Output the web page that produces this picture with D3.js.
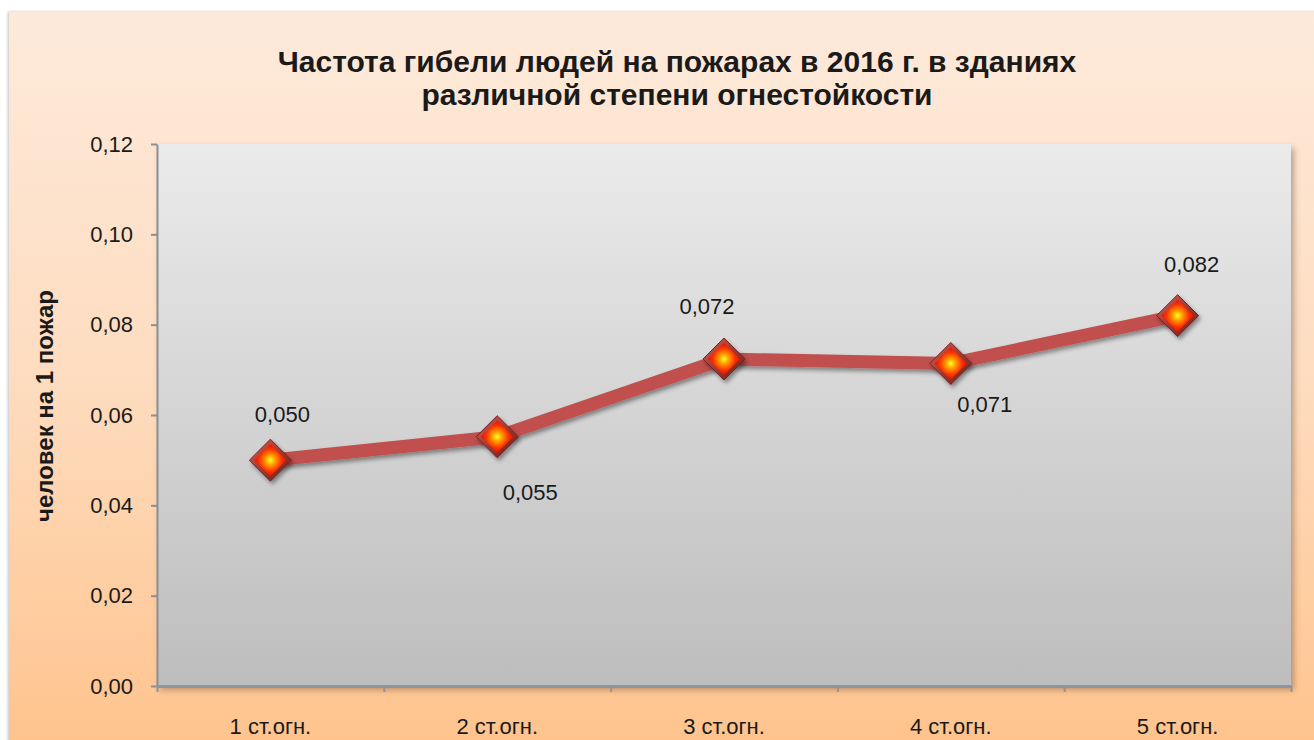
<!DOCTYPE html>
<html>
<head>
<meta charset="utf-8">
<script src="https://cdn.jsdelivr.net/npm/d3@7"></script>
<style>
  body { margin: 0; background: #fff; }
  svg { display: block; font-family: "Liberation Sans", Arial, sans-serif; }
</style>
</head>
<body>
<svg id="chart" width="1314" height="740"></svg>
<script>
// Data
const categories = ["1 ст.огн.", "2 ст.огн.", "3 ст.огн.", "4 ст.огн.", "5 ст.огн."];
const values = [0.0500, 0.0552, 0.0724, 0.0714, 0.0820];
const yTicks = [0, 0.02, 0.04, 0.06, 0.08, 0.10, 0.12];
const titleLines = ["Частота гибели людей на пожарах в 2016 г. в зданиях", "различной степени огнестойкости"];
const yTitle = "человек на 1 пожар";

// Label placement relative to each point (layout only)
const labelOffsets = [[12, -38], [33, 63], [-17, -45], [34, 48], [14, -44]];

const svg = d3.select("#chart");
const plot = { left: 157, top: 144, right: 1291, bottom: 686 };
const comma = v => v.replace(".", ",");

// Defs: gradients and shadows
const defs = svg.append("defs");

const bgGrad = defs.append("linearGradient").attr("id", "bgGrad")
	.attr("x1", 0).attr("y1", 0).attr("x2", 0).attr("y2", 1);
bgGrad.append("stop").attr("offset", "0%").attr("stop-color", "#fdeadb");
bgGrad.append("stop").attr("offset", "50%").attr("stop-color", "#fedcbf");
bgGrad.append("stop").attr("offset", "100%").attr("stop-color", "#ffc38c");

const plotGrad = defs.append("linearGradient").attr("id", "plotGrad")
	.attr("x1", 0).attr("y1", 0).attr("x2", 0).attr("y2", 1);
plotGrad.append("stop").attr("offset", "0%").attr("stop-color", "#ebebeb");
plotGrad.append("stop").attr("offset", "100%").attr("stop-color", "#bdbdbd");

const markerFill = defs.append("radialGradient").attr("id", "markerFill")
	.attr("cx", "50%").attr("cy", "50%").attr("r", "50%");
markerFill.append("stop").attr("offset", "0%").attr("stop-color", "#ffff20");
markerFill.append("stop").attr("offset", "30%").attr("stop-color", "#ffa000");
markerFill.append("stop").attr("offset", "70%").attr("stop-color", "#ff3000");
markerFill.append("stop").attr("offset", "100%").attr("stop-color", "#e01400");

const markerEdge = defs.append("linearGradient").attr("id", "markerEdge")
	.attr("x1", 0).attr("y1", 0).attr("x2", 1).attr("y2", 1);
markerEdge.append("stop").attr("offset", "0%").attr("stop-color", "#d65a50");
markerEdge.append("stop").attr("offset", "100%").attr("stop-color", "#6e1a17");

const shadow = defs.append("filter").attr("id", "shadow")
	.attr("x", "-10%").attr("y", "-10%").attr("width", "130%").attr("height", "130%");
shadow.append("feDropShadow").attr("dx", 3).attr("dy", 4).attr("stdDeviation", 3)
	.attr("flood-color", "#6b4a30").attr("flood-opacity", 0.45);

const markShadow = defs.append("filter").attr("id", "markShadow")
	.attr("x", "-50%").attr("y", "-50%").attr("width", "200%").attr("height", "200%");
markShadow.append("feDropShadow").attr("dx", 2).attr("dy", 3).attr("stdDeviation", 2)
	.attr("flood-color", "#000").attr("flood-opacity", 0.4);

const outerShadow = defs.append("filter").attr("id", "outerShadow")
	.attr("x", "-2%").attr("y", "-2%").attr("width", "104%").attr("height", "104%");
outerShadow.append("feDropShadow").attr("dx", -1).attr("dy", 0).attr("stdDeviation", 1.5)
	.attr("flood-color", "#000").attr("flood-opacity", 0.25);

// Chart area background
svg.append("rect")
	.attr("x", 9).attr("y", 12)
	.attr("width", 1320).attr("height", 740)
	.attr("fill", "url(#bgGrad)")
	.attr("filter", "url(#outerShadow)");

// Plot area
svg.append("rect")
	.attr("x", plot.left).attr("y", plot.top)
	.attr("width", plot.right - plot.left).attr("height", plot.bottom - plot.top)
	.attr("fill", "url(#plotGrad)")
	.attr("filter", "url(#shadow)");

// Scales
const x = d3.scaleBand()
	.domain(categories)
	.range([plot.left, plot.right])
	.padding(0);

const xEdge = d3.scaleLinear()
	.domain([0, categories.length])
	.range([plot.left, plot.right]);

const y = d3.scaleLinear()
	.domain([0, 0.12])
	.range([plot.bottom, plot.top]);

// Y axis
const yAxis = svg.append("g")
	.attr("transform", "translate(" + plot.left + ",0)")
	.call(d3.axisLeft(y).tickValues(yTicks).tickSize(6).tickSizeOuter(0).tickPadding(18)
		.tickFormat(d => comma(d3.format(".2f")(d))));
yAxis.select(".domain").attr("stroke", "#8a8f96").attr("stroke-width", 2);
yAxis.selectAll(".tick line").attr("stroke", "#8a8f96").attr("stroke-width", 2);
yAxis.selectAll("text")
	.style("font-size", "22px")
	.attr("fill", "#1a1a1a");

// X axis (ticks between categories)
const xAxis = svg.append("g")
	.attr("transform", "translate(0," + plot.bottom + ")")
	.call(d3.axisBottom(xEdge).tickValues(d3.range(categories.length + 1)).tickSize(6).tickSizeOuter(0)
		.tickFormat(""));
xAxis.select(".domain").attr("stroke", "#8a959e").attr("stroke-width", 3);
xAxis.selectAll(".tick line").attr("stroke", "#8a959e").attr("stroke-width", 2);

svg.append("g")
	.selectAll("text")
	.data(categories)
	.join("text")
		.attr("x", d => x(d) + x.bandwidth() / 2)
		.attr("y", 734)
		.attr("text-anchor", "middle")
		.style("font-size", "22px")
		.attr("fill", "#1a1a1a")
		.text(d => d);

// Title
svg.append("text")
	.attr("x", 677)
	.attr("y", 72)
	.attr("text-anchor", "middle")
	.style("font-size", "30px")
	.style("font-weight", "bold")
	.attr("fill", "#1a1a1a")
	.selectAll("tspan")
	.data(titleLines)
	.join("tspan")
		.attr("x", 677)
		.attr("dy", (d, i) => i === 0 ? 0 : 33)
		.text(d => d);

// Y axis title
svg.append("text")
	.attr("transform", "translate(53," + 406 + ")rotate(-90)")
	.attr("text-anchor", "middle")
	.style("font-size", "24px")
	.style("font-weight", "bold")
	.attr("fill", "#1a1a1a")
	.text(yTitle);

// Series
const data = categories.map((c, i) => ({ cat: c, value: values[i], off: labelOffsets[i] }));
const cx = d => x(d.cat) + x.bandwidth() / 2;

const line = d3.line()
	.x(cx)
	.y(d => y(d.value));

svg.append("path")
	.datum(data)
	.attr("d", line)
	.attr("fill", "none")
	.attr("stroke", "#c0504d")
	.attr("stroke-width", 13)
	.attr("stroke-linejoin", "round")
	.attr("filter", "url(#markShadow)");

// Markers
const outerDiamond = "M0,-21L21,0L0,21L-21,0Z";
const innerDiamond = "M0,-16L16,0L0,16L-16,0Z";

const markers = svg.append("g")
	.selectAll("g")
	.data(data)
	.join("g")
		.attr("transform", d => "translate(" + cx(d) + "," + y(d.value) + ")");

markers.append("path")
	.attr("d", outerDiamond)
	.attr("fill", "url(#markerEdge)")
	.attr("stroke", "#7a2320")
	.attr("stroke-width", 1)
	.attr("filter", "url(#markShadow)");

markers.append("path")
	.attr("d", innerDiamond)
	.attr("fill", "url(#markerFill)");

// Value labels
svg.append("g")
	.selectAll("text")
	.data(data)
	.join("text")
		.attr("x", d => cx(d) + d.off[0])
		.attr("y", d => y(d.value) + d.off[1])
		.attr("text-anchor", "middle")
		.style("font-size", "22px")
		.attr("fill", "#1a1a1a")
		.text(d => comma(d3.format(".3f")(d.value)));
</script>
</body>
</html>
